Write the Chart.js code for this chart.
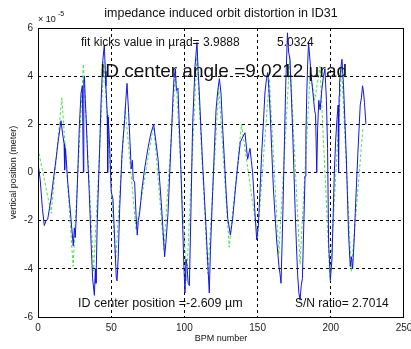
<!DOCTYPE html>
<html>
<head>
<meta charset="utf-8">
<script src="https://cdn.jsdelivr.net/npm/chart.js@4"></script>
<style>
html,body{margin:0;padding:0;background:#fff;}
#c{display:block;}
</style>
</head>
<body>
<canvas id="c" width="411" height="349"></canvas>
<script>
// Measured orbit (blue), BPM number vs vertical position (x 1e-5 m)
const blueX = [0,1.5,3,4.3,5.5,6.6,7.8,8.9,10.5,12.3,14,15.7,16.8,17.8,18.2,18.8,20.3,21.5,22.5,24.1,24.8,25.5,26.3,27.1,28.3,29.4,30.3,31.0,31.3,31.7,32.3,32.8,34,35,36.3,37.3,38.5,39.2,39.6,40.5,41.9,43,44.2,45.3,46,46.4,47.3,47.6,48,49,50,51.2,52.4,53.5,54,54.8,55.8,57.4,59.2,60,60.8,61.9,62.8,63.7,64.5,65,66,67,67.8,68.5,69.4,71,72.8,75.1,77,79,80.5,82,84.2,85.5,86.5,87.5,88.8,90,91.1,92.1,92.9,93.8,94.5,95.6,96.5,97.4,98.8,99.6,100.4,101.1,101.8,102.6,103.4,104.5,105.6,106.5,107.3,108.6,109.4,110.2,111.3,112.5,113.5,114.7,116,117,117.8,119.3,120.5,121.6,122.8,123.9,125,126,127.3,128.5,129.6,131.4,133,135.3,136.8,138.2,140,141.4,142.3,143.2,144.8,145.7,146.6,148,149.4,150.5,151.6,152.8,154,155,156.1,156.9,157.7,158.5,159.6,160.7,161.8,163,164.6,165.3,166,166.8,167.6,168.4,169.2,170.4,171.2,172.1,173,173.8,174.7,175.6,176.5,177.4,178.2,179,179.8,180.6,181.5,182.4,183,183.6,184.2,184.8,185.6,186.6,187.8,188.9,189.6,190.4,191,191.8,192.7,193.8,195,196,197,197.8,198.5,199.7,200.8,201.6,202.4,203.3,204.2,205,205.3,205.7,206,206.8,207.6,208.2,208.7,209.6,210.5,211.3,212.1,213.3,214.1,214.9,215.8,216.7,217.6,218.5,219.3,220.1,220.9,221.7,222.4,223,224];
const blueY = [0.4,-0.3,-1.5,-2.2,-2.0,-1.95,-1.5,-1.1,-0.3,0.55,1.4,2.15,1.6,1.2,0.1,1.0,-0.4,-1.2,-1.9,-3.05,-2.3,-2.7,-1.5,-0.1,2.0,3.3,3.6,0.0,3.8,4.0,3.0,2.4,0.5,-0.8,-3.0,-4.4,-5.1,-4.0,-4.6,-2.0,0.55,2.8,4.6,5.3,4.2,3.6,2.4,0.0,2.3,1.0,-0.8,-1.1,-2.8,-4.4,-4.5,-3.5,-1.5,0.8,2.2,3.0,3.7,2.5,1.3,0.15,0.5,-0.3,-0.4,-1.8,-2.6,-2.0,-1.7,-0.7,0.15,1.0,1.6,2.0,1.3,0.55,-1.25,-2.5,-3.5,-2.8,-1.7,0.0,1.5,3.0,3.9,4.3,3.4,3.5,2.0,0.55,-2.2,-3.8,-5.0,-3.6,-3.9,-4.6,-4.7,-1.5,1.95,3.3,4.45,5.4,4.2,3.3,1.8,0.3,-0.8,-2.2,-3.8,-5.0,-3.2,-0.8,1.0,2.6,3.4,3.9,3.3,2.0,0.55,-0.8,-1.9,-2.6,-1.9,-0.4,0.5,1.25,1.5,1.65,1.1,0.55,1.0,0.5,0.0,-1.5,-2.8,-2.2,-0.8,0.8,2.1,3.3,3.9,4.15,3.5,2.6,1.0,-0.55,-1.7,-2.8,-3.9,-4.2,-4.6,-2.8,-0.8,1.5,3.6,5.8,5.0,4.7,3.3,1.95,0.3,-1.5,-3.0,-4.3,-5.0,-5.3,-4.7,-4.4,-2.3,-0.15,1.6,3.3,4.5,5.4,4.8,4.0,3.3,2.6,2.4,0.0,1.8,3.0,2.6,3.4,4.0,4.3,3.0,1.0,-2.9,-4.45,-3.6,-1.8,0.0,1.3,2.2,2.8,0.0,3.2,3.75,4.3,4.7,4.1,3.6,2.2,0.8,-0.8,-2.5,-3.9,-3.5,-4.0,-3.0,-1.7,-0.4,0.8,1.8,2.8,3.1,3.6,3.3,2.9,2.0];
// Fitted orbit (green dashed)
const greenX = [0,9,16.3,24,31,38,45,53,59.5,67,79,86,94,101.5,108.5,116,123.5,130.6,139,150,158,164.5,172,179,186,189,192.6,199.5,207.4,214,222];
const greenY = [1.0,-1.7,3.1,-3.9,4.5,-4.1,4.6,-3.7,2.7,-2.4,2.0,-3.2,4.3,-4.5,4.8,-4.2,3.5,-3.1,2.0,-2.7,3.9,-3.4,4.8,-3.8,4.2,3.0,4.4,-4.5,4.4,-4.1,1.9];
const xTicks = [0,50,100,150,200,250];
const yTicks = [-6,-4,-2,0,2,4,6];

const FONT = '"Liberation Sans", Arial, Helvetica, sans-serif';

const boxAndText = {
  id: 'boxAndText',
  afterDraw(chart) {
    const ctx = chart.ctx, a = chart.chartArea;
    ctx.save();
    ctx.strokeStyle = '#000';
    ctx.lineWidth = 1;
    ctx.setLineDash([]);
    ctx.strokeRect(Math.round(a.left) + 0.5, Math.round(a.top) + 0.5, Math.round(a.right - a.left) - 1, Math.round(a.bottom - a.top));
    ctx.fillStyle = '#111';
    ctx.textBaseline = 'alphabetic';
    // title
    ctx.textAlign = 'center';
    ctx.font = '12.5px ' + FONT;
    ctx.fillText('impedance induced orbit distortion in ID31', (a.left + a.right) / 2, 17);
    // exponent
    ctx.textAlign = 'left';
    ctx.font = '9px ' + FONT;
    ctx.fillText('\u00d7 10', 38, 22);
    ctx.font = '7px ' + FONT;
    ctx.fillText('-5', 58, 16);
    // annotations
    ctx.font = '12px ' + FONT;
    ctx.fillText('fit kicks value in \u00b5rad= 3.9888', 81, 46);
    ctx.fillText('5.0324', 277, 46);
    ctx.font = '19px ' + FONT;
    ctx.fillText('ID center angle =9.0212 \u00b5rad', 100, 77);
    ctx.font = '12.5px ' + FONT;
    ctx.fillText('ID center position =-2.609 \u00b5m', 78, 307);
    ctx.font = '12px ' + FONT;
    ctx.fillText('S/N ratio= 2.7014', 295, 307);
    // axis titles
    ctx.textAlign = 'center';
    ctx.font = '9px ' + FONT;
    ctx.fillText('BPM number', (a.left + a.right) / 2, 341);
    ctx.translate(16, (a.top + a.bottom) / 2);
    ctx.rotate(-Math.PI / 2);
    ctx.fillText('vertical position (meter)', 0, 0);
    ctx.restore();
  }
};

const gridColor = (ctx) => {
  const v = ctx.tick ? ctx.tick.value : null;
  if (v === null) return 'rgba(0,0,0,0)';
  const s = ctx.scale;
  if (v <= s.min || v >= s.max) return 'rgba(0,0,0,0)';
  return '#000';
};

new Chart(document.getElementById('c'), {
  type: 'scatter',
  data: {
    datasets: [
      {
        data: blueX.map((x, i) => ({x: x, y: blueY[i]})),
        showLine: true,
        borderColor: 'rgb(20,20,230)',
        borderWidth: 1,
        pointRadius: 0,
        tension: 0
      },
      {
        data: greenX.map((x, i) => ({x: x, y: greenY[i]})),
        showLine: true,
        borderColor: 'rgb(80,225,80)',
        borderWidth: 1,
        borderDash: [3, 2],
        pointRadius: 0,
        tension: 0
      }
    ]
  },
  options: {
    responsive: false,
    animation: false,
    devicePixelRatio: 1,
    layout: {padding: {top: 28, right: 7, left: 0, bottom: 0}},
    plugins: {legend: {display: false}, tooltip: {enabled: false}, title: {display: false}},
    scales: {
      x: {
        type: 'linear',
        min: xTicks[0], max: xTicks[xTicks.length - 1],
        afterBuildTicks(s) { s.ticks = xTicks.map(v => ({value: v})); },
        afterFit(s) { s.height = 32; s.paddingLeft = 0; s.paddingRight = 0; },
        grid: {color: gridColor, lineWidth: 1, drawTicks: false},
        border: {display: false, dash: [3, 3]},
        ticks: {padding: 5, color: '#222', font: {family: FONT, size: 10}, maxRotation: 0}
      },
      y: {
        type: 'linear',
        min: yTicks[0], max: yTicks[yTicks.length - 1],
        afterBuildTicks(s) { s.ticks = yTicks.map(v => ({value: v})); },
        afterFit(s) { s.width = 38; s.paddingTop = 0; s.paddingBottom = 0; },
        grid: {color: gridColor, lineWidth: 1, drawTicks: false},
        border: {display: false, dash: [3, 3]},
        ticks: {padding: 5, color: '#222', font: {family: FONT, size: 10}}
      }
    }
  },
  plugins: [boxAndText]
});
</script>
</body>
</html>
